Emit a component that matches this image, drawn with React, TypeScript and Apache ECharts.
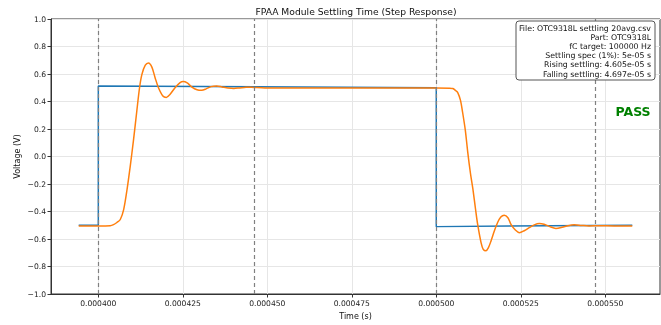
import React, { useEffect, useRef } from "react";
import * as echarts from "echarts";

// Time in microseconds (axis labels are shown in seconds)
const inputTimesUs = [394.2, 400.0, 400.0, 500.0, 500.0, 558.0];
const inputVolts = [-0.5, -0.5, 0.512, 0.5, -0.51, -0.5];

const outputTimesUs = [
  394.2, 400.0, 403.5, 404.5, 405.5, 406.5, 407.5, 408.5, 409.45, 410.4, 411.4, 412.2, 412.9,
  413.9, 414.85, 415.85, 416.8, 417.8, 419.1, 420.1, 421.25, 422.7, 424.2, 425.1, 426.3,
  427.7, 429.2, 430.6, 431.9, 433.35, 435.0, 436.6, 438.4, 440.1, 441.9, 443.7, 445.2,
  446.9, 449.3, 452.2, 470.0, 490.0, 500.0, 503.9, 504.9, 505.7, 506.35, 507.15, 507.8,
  508.6, 509.3, 510.1, 510.8, 511.6, 512.25, 513.25, 513.9, 514.7, 515.4, 516.2, 517.2,
  518.15, 519.1, 520.1, 521.2, 522.1, 523.4, 524.6, 526.0, 527.5, 529.0, 530.5, 531.9,
  533.4, 535.4, 537.25, 539.0, 540.8, 542.9, 545.2, 548.2, 552.6, 558.0,
];
const outputVolts = [
  -0.506, -0.506, -0.504, -0.496, -0.48, -0.458, -0.386, -0.24, -0.07, 0.117, 0.333, 0.5, 0.597,
  0.664, 0.68, 0.65, 0.573, 0.5, 0.44, 0.43, 0.453, 0.5, 0.537, 0.545, 0.535,
  0.505, 0.486, 0.482, 0.492, 0.508, 0.513, 0.506, 0.498, 0.495, 0.499, 0.503, 0.504,
  0.501, 0.499, 0.499, 0.498, 0.498, 0.498, 0.497, 0.494, 0.48, 0.465, 0.41, 0.32,
  0.19, 0.034, -0.12, -0.23, -0.38, -0.494, -0.626, -0.675, -0.686, -0.665, -0.614, -0.54,
  -0.48, -0.44, -0.427, -0.445, -0.494, -0.535, -0.554, -0.54, -0.518, -0.497, -0.487, -0.493,
  -0.508, -0.523, -0.515, -0.503, -0.497, -0.501, -0.505, -0.504, -0.505, -0.505,
];

const markerTimesUs = [400.0, 446.05, 500.0, 546.97];
const timeTicksUs = [400, 425, 450, 475, 500, 525, 550];

const infoLines = [
  "File: OTC9318L settling 20avg.csv",
  "Part: OTC9318L",
  "fC target: 100000 Hz",
  "Settling spec (1%): 5e-05 s",
  "Rising settling: 4.605e-05 s",
  "Falling settling: 4.697e-05 s",
];

const FONT = "DejaVu Sans";

export default function App() {
  const ref = useRef<HTMLDivElement>(null);
  useEffect(() => {
    const chart = echarts.init(ref.current!, null, { renderer: "svg" });
    const inputData = inputTimesUs.map((t, i) => [t, inputVolts[i]]);
    const outputData = outputTimesUs.map((t, i) => [t, outputVolts[i]]);
    chart.setOption({
      animation: false,
      title: {
        text: "FPAA Module Settling Time (Step Response)",
        left: 351,
        textAlign: "center",
        top: 2,
        textStyle: { fontFamily: FONT, fontSize: 9.2, fontWeight: "normal", color: "#111" },
      },
      grid: {
        left: 51,
        right: 1,
        top: 19,
        bottom: 28,
        show: true,
        borderColor: "#333",
        borderWidth: 1,
        backgroundColor: "transparent",
      },
      xAxis: {
        type: "value",
        min: 386.0,
        max: 566.2,
        name: "Time (s)",
        nameLocation: "middle",
        nameGap: 18,
        nameTextStyle: { fontFamily: FONT, fontSize: 8, color: "#111" },
        axisLine: { show: true, onZero: false, lineStyle: { color: "#333" } },
        axisTick: { show: true, length: 3.5, customValues: timeTicksUs, lineStyle: { color: "#333" } },
        axisLabel: {
          customValues: timeTicksUs,
          fontFamily: FONT,
          fontSize: 7.6,
          color: "#222",
          margin: 5,
          formatter: (v: number) => (v / 1e6).toFixed(6),
        },
        splitLine: { show: true, lineStyle: { color: "#e6e6e6", width: 1 } },
      },
      yAxis: {
        type: "value",
        min: -1,
        max: 1,
        interval: 0.2,
        name: "Voltage (V)",
        nameLocation: "middle",
        nameGap: 30,
        nameMoveOverlap: false,
        nameTextStyle: { fontFamily: FONT, fontSize: 8, color: "#111" },
        axisLine: { show: true, onZero: false, lineStyle: { color: "#333" } },
        axisTick: { show: true, length: 3.5, lineStyle: { color: "#333" } },
        axisLabel: {
          fontFamily: FONT,
          fontSize: 7.6,
          color: "#222",
          margin: 5,
          formatter: (v: number) => v.toFixed(1).replace("-", "\u2212"),
        },
        splitLine: { show: true, lineStyle: { color: "#e6e6e6", width: 1 } },
      },
      series: [
        {
          type: "line",
          name: "Input",
          data: inputData,
          symbol: "none",
          lineStyle: { color: "#1f77b4", width: 1.5 },
          z: 2,
        },
        {
          type: "line",
          name: "Output",
          data: outputData,
          symbol: "none",
          smooth: 0.3,
          lineStyle: { color: "#ff7f0e", width: 1.5 },
          z: 3,
          markLine: {
            silent: true,
            symbol: ["none", "none"],
            label: { show: false },
            lineStyle: { type: [4, 3], color: "#808080", width: 1.2 },
            data: markerTimesUs.map((t) => ({ xAxis: t })),
            z: 4,
          },
        },
      ],
      graphic: [
        {
          type: "rect",
          shape: { x: 516, y: 21, width: 139, height: 59, r: 3 },
          style: { fill: "#fff", stroke: "#555", lineWidth: 1 },
          z: 10,
        },
        {
          type: "text",
          x: 651,
          y: 23.5,
          style: {
            text: infoLines.join("\n"),
            textAlign: "right",
            textVerticalAlign: "top",
            fontFamily: FONT,
            fontSize: 7.8,
            lineHeight: 9.2,
            fill: "#111",
          },
          z: 11,
        },
        {
          type: "text",
          x: 633,
          y: 111,
          style: {
            text: "PASS",
            textAlign: "center",
            textVerticalAlign: "middle",
            fontFamily: FONT,
            fontSize: 12.5,
            fontWeight: "bold",
            fill: "#008000",
          },
          z: 11,
        },
      ],
    });
    return () => chart.dispose();
  }, []);
  return (
    <div
      ref={ref}
      style={{ position: "fixed", left: 0, top: 0, width: 661, height: 325 }}
    />
  );
}
